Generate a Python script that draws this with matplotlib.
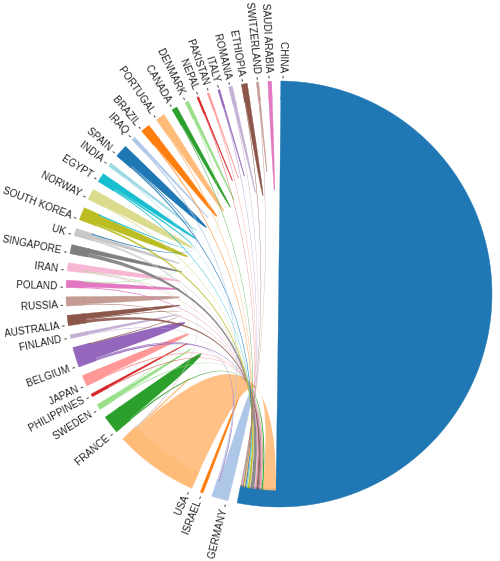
import numpy as np
import matplotlib
matplotlib.use("Agg")
import matplotlib.pyplot as plt
from matplotlib.path import Path
from matplotlib.patches import PathPatch

# Países en el orden del círculo (sentido horario desde arriba)
countries = ["CHINA", "GERMANY", "ISRAEL", "USA", "FRANCE", "SWEDEN", "PHILIPPINES",
             "JAPAN", "BELGIUM", "FINLAND", "AUSTRALIA", "RUSSIA", "POLAND", "IRAN",
             "SINGAPORE", "UK", "SOUTH KOREA", "NORWAY", "EGYPT", "INDIA", "SPAIN",
             "IRAQ", "BRAZIL", "PORTUGAL", "CANADA", "DENMARK", "NEPAL", "PAKISTAN",
             "ITALY", "ROMANIA", "ETHIOPIA", "SWITZERLAND", "SAUDI ARABIA"]

# Flujo de cada país consigo mismo (en grados de arco)
self_flow = [180.4, 3.8, 0.8, 0.4, 4.6, 1.0, 0.6, 2.6, 4.4, 0.8, 1.6, 2.2, 1.5, 1.7,
             1.3, 1.1, 2.5, 2.7, 1.6, 0.8, 2.8, 0.6, 2.2, 2.2, 1.3, 0.8, 0.35, 0.3,
             0.35, 0.8, 1.4, 0.4, 1.0]

# Enlaces entre países: origen, destino, ancho en origen, ancho en destino
link_src = ["USA", "FRANCE", "SWEDEN", "PHILIPPINES", "JAPAN", "BELGIUM", "AUSTRALIA",
            "RUSSIA", "POLAND", "IRAN", "SINGAPORE", "UK", "SOUTH KOREA", "NORWAY",
            "EGYPT", "INDIA", "SPAIN", "BRAZIL", "PORTUGAL", "CANADA", "NEPAL",
            "PAKISTAN", "ITALY", "ROMANIA", "ETHIOPIA", "SWITZERLAND",
            "BELGIUM", "FINLAND", "IRAQ", "UK", "AUSTRALIA", "SWEDEN", "DENMARK",
            "EGYPT", "SPAIN"]
link_dst = ["CHINA"] * 26 + ["GERMANY", "GERMANY", "GERMANY", "USA", "BELGIUM", "IRAN",
                             "POLAND", "SOUTH KOREA", "UK"]
link_w_src = [22.3, 0.4, 0.3, 0.2, 0.4, 0.5, 0.9, 0.3, 0.3, 0.3, 1.2, 0.3, 0.6, 0.3,
              0.3, 0.2, 0.4, 0.3, 0.3, 0.2, 0.15, 0.2, 0.15, 0.2, 0.2, 0.2,
              0.3, 0.2, 0.4, 0.3, 0.3, 0.2, 0.2, 0.6, 0.3]
link_w_dst = [3.8, 0.4, 0.2, 0.1, 0.3, 0.3, 0.7, 0.2, 0.2, 0.2, 1.1, 0.2, 0.6, 0.2,
              0.2, 0.1, 0.3, 0.2, 0.2, 0.2, 0.1, 0.15, 0.1, 0.1, 0.15, 0.15,
              0.25, 0.2, 0.3, 0.3, 0.3, 0.2, 0.2, 0.4, 0.3]

# Geometría del círculo (en píxeles)
CX, CY = 279, 294
R_OUT, R_IN = 213, 195
R_CH = R_IN + 1.5  # las cuerdas se solapan un poco con el anillo
START = 0.5


def pt(theta, r):
    t = np.radians(theta)
    return (CX + r * np.sin(t), CY - r * np.cos(t))


def arc_pts(a0, a1, r):
    n = max(3, int(abs(a1 - a0) * 2) + 2)
    return [pt(a, r) for a in np.linspace(a0, a1, n)]


def draw_chord_diagram():
    n = len(countries)
    idx = {c: i for i, c in enumerate(countries)}
    colors = [plt.get_cmap("tab20").colors[i % 20] for i in range(n)]

    # Segmentos de cada grupo: (pareja, ancho, clave)
    segs = [[] for _ in range(n)]
    for i in range(n):
        if self_flow[i] > 0:
            segs[i].append((i, self_flow[i], ("self", i)))
    for k in range(len(link_src)):
        s, d = idx[link_src[k]], idx[link_dst[k]]
        segs[s].append((d, link_w_src[k], ("src", k)))
        segs[d].append((s, link_w_dst[k], ("dst", k)))
    for i in range(n):
        segs[i].sort(key=lambda x: x[0])

    sizes = [sum(w for _, w, _ in segs[i]) for i in range(n)]
    pad = (360 - sum(sizes)) / n

    group_ang = []
    ends = {}
    a = START
    for i in range(n):
        g0 = a
        for _, w, key in segs[i]:
            ends[key] = (a, a + w)
            a += w
        group_ang.append((g0, a))
        a += pad

    fig = plt.figure(figsize=(5, 5.61), dpi=100)
    ax = fig.add_axes([0, 0, 1, 1])
    ax.set_xlim(0, 500)
    ax.set_ylim(561, 0)
    ax.axis("off")

    # Arcos exteriores
    for i in range(n):
        g0, g1 = group_ang[i]
        verts = arc_pts(g0, g1, R_OUT) + arc_pts(g1, g0, R_IN)
        verts.append(verts[0])
        codes = [Path.MOVETO] + [Path.LINETO] * (len(verts) - 2) + [Path.CLOSEPOLY]
        ax.add_patch(PathPatch(Path(verts, codes), facecolor=colors[i],
                               edgecolor=colors[i], lw=0.3))

    # Cuerdas de cada país consigo mismo
    for i in range(n):
        if ("self", i) not in ends:
            continue
        a0, a1 = ends[("self", i)]
        verts = arc_pts(a0, a1, R_CH)
        codes = [Path.MOVETO] + [Path.LINETO] * (len(verts) - 1)
        verts += [(CX, CY), pt(a0, R_CH), pt(a0, R_CH)]
        codes += [Path.CURVE3, Path.CURVE3, Path.CLOSEPOLY]
        ax.add_patch(PathPatch(Path(verts, codes), facecolor=colors[i],
                               edgecolor=colors[i], lw=0.2))

    # Cuerdas entre países
    for k in range(len(link_src)):
        s = idx[link_src[k]]
        a0, a1 = ends[("src", k)]
        b0, b1 = ends[("dst", k)]
        verts = arc_pts(a0, a1, R_CH)
        codes = [Path.MOVETO] + [Path.LINETO] * (len(verts) - 1)
        verts += [(CX, CY), pt(b0, R_CH)]
        codes += [Path.CURVE3, Path.CURVE3]
        tv = arc_pts(b0, b1, R_CH)[1:]
        verts += tv
        codes += [Path.LINETO] * len(tv)
        verts += [(CX, CY), pt(a0, R_CH), pt(a0, R_CH)]
        codes += [Path.CURVE3, Path.CURVE3, Path.CLOSEPOLY]
        ax.add_patch(PathPatch(Path(verts, codes), facecolor=colors[s],
                               edgecolor="none", alpha=0.9))

    # Etiquetas
    for i in range(n):
        th = group_ang[i][0] + 0.3
        x, y = pt(th, R_OUT + 3)
        t = np.radians(th)
        rot = np.degrees(np.arctan2(-np.cos(t), -np.sin(t)))
        ax.text(x, y, countries[i] + " -", rotation=rot, rotation_mode="anchor",
                ha="right", va="center", fontsize=7.2, color="#222222",
                family=["Liberation Sans", "DejaVu Sans"])

    fig.savefig("out.png", dpi=100)
    plt.close(fig)


if __name__ == "__main__":
    draw_chord_diagram()
